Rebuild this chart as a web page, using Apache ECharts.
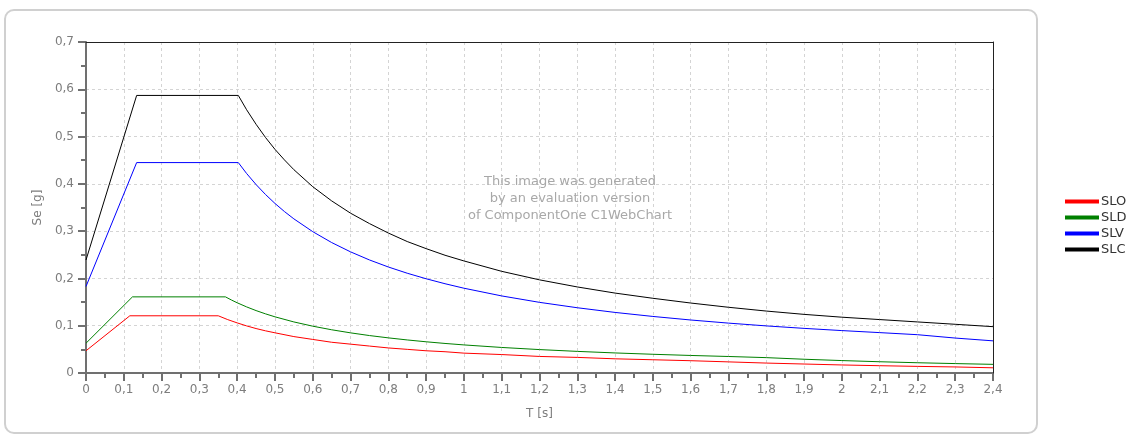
<!DOCTYPE html>
<html>
<head>
<meta charset="utf-8">
<script src="https://cdn.jsdelivr.net/npm/echarts@6/dist/echarts.min.js"></script>
<style>
html,body{margin:0;padding:0;background:#fff;}
#chart{width:1129px;height:436px;}
</style>
</head>
<body>
<div id="chart"></div>
<script>
// Periods T [s] and spectral accelerations Se [g]
const seriesNames = ['SLO', 'SLD', 'SLV', 'SLC'];
const seriesColors = ['#ff0000', '#008000', '#0000ff', '#000000'];

const sloT  = [0, 0.116, 0.35, 0.375, 0.4, 0.425, 0.45, 0.475, 0.5, 0.55, 0.6, 0.65, 0.7, 0.75, 0.8, 0.85, 0.9, 0.95, 1.0, 1.1, 1.2, 1.3, 1.4, 1.5, 1.6, 1.7, 1.8, 1.9, 2.0, 2.1, 2.2, 2.3, 2.4];
const sloSe = [0.047, 0.121, 0.121, 0.1129, 0.106, 0.0996, 0.094, 0.0892, 0.085, 0.077, 0.071, 0.065, 0.061, 0.057, 0.053, 0.050, 0.047, 0.045, 0.042, 0.039, 0.035, 0.033, 0.030, 0.028, 0.026, 0.0235, 0.021, 0.019, 0.017, 0.0154, 0.014, 0.0128, 0.011];

const sldT  = [0, 0.123, 0.369, 0.385, 0.4, 0.425, 0.45, 0.475, 0.5, 0.55, 0.6, 0.65, 0.7, 0.75, 0.8, 0.85, 0.9, 0.95, 1.0, 1.1, 1.2, 1.3, 1.4, 1.5, 1.6, 1.7, 1.8, 1.9, 2.0, 2.1, 2.2, 2.3, 2.4];
const sldSe = [0.063, 0.161, 0.161, 0.1543, 0.1485, 0.1398, 0.132, 0.1251, 0.1188, 0.108, 0.099, 0.0914, 0.0849, 0.0792, 0.0743, 0.0699, 0.066, 0.0625, 0.0594, 0.054, 0.0495, 0.0457, 0.0424, 0.0396, 0.0371, 0.0349, 0.0325, 0.0291, 0.0263, 0.0238, 0.0217, 0.0199, 0.0183];

const slvT  = [0, 0.134, 0.403, 0.425, 0.45, 0.475, 0.5, 0.525, 0.55, 0.6, 0.65, 0.7, 0.75, 0.8, 0.85, 0.9, 0.95, 1.0, 1.1, 1.2, 1.3, 1.4, 1.5, 1.6, 1.7, 1.8, 1.9, 2.0, 2.1, 2.2, 2.3, 2.4];
const slvSe = [0.183, 0.445, 0.445, 0.4219, 0.3985, 0.3775, 0.3586, 0.3415, 0.326, 0.2989, 0.2759, 0.2562, 0.2391, 0.2242, 0.211, 0.1993, 0.1888, 0.1793, 0.163, 0.1494, 0.138, 0.1281, 0.1196, 0.1121, 0.1055, 0.0996, 0.0944, 0.0897, 0.0854, 0.081, 0.0739, 0.068];

const slcT  = [0, 0.134, 0.403, 0.425, 0.45, 0.475, 0.5, 0.525, 0.55, 0.6, 0.65, 0.7, 0.75, 0.8, 0.85, 0.9, 0.95, 1.0, 1.1, 1.2, 1.3, 1.4, 1.5, 1.6, 1.7, 1.8, 1.9, 2.0, 2.1, 2.2, 2.3, 2.4];
const slcSe = [0.239, 0.587, 0.587, 0.5567, 0.526, 0.4981, 0.473, 0.4507, 0.430, 0.394, 0.364, 0.338, 0.316, 0.296, 0.278, 0.263, 0.249, 0.237, 0.215, 0.197, 0.182, 0.169, 0.158, 0.148, 0.139, 0.131, 0.124, 0.118, 0.113, 0.108, 0.103, 0.098];

const watermarkLines = ['This image was generated', 'by an evaluation version', 'of ComponentOne C1WebChart'];
const xTitle = 'T [s]';
const yTitle = 'Se [g]';

const allT = [sloT, sldT, slvT, slcT];
const allSe = [sloSe, sldSe, slvSe, slcSe];

function fmt(v) {
  const r = Math.round(v * 10) / 10;
  return String(r).replace('.', ',');
}

const FONT = 'DejaVu Sans';
const LABEL = '#7d7d7d';
const chart = echarts.init(document.getElementById('chart'), null, {renderer: 'canvas'});

const series = seriesNames.map((name, i) => ({
  name: name,
  type: 'line',
  data: allT[i].map((t, k) => [t, allSe[i][k]]),
  showSymbol: false,
  symbol: 'none',
  lineStyle: {color: seriesColors[i], width: 1},
  itemStyle: {color: seriesColors[i]},
  animation: false,
  z: 3
}));

const axisCommon = {
  axisLine: {show: true, onZero: false, lineStyle: {color: '#707070', width: 2}},
  axisTick: {show: true, inside: false, length: 8, lineStyle: {color: '#707070', width: 2}},
  minorTick: {show: true, splitNumber: 2, length: 5, lineStyle: {color: '#707070', width: 2}},
  splitLine: {show: true, lineStyle: {color: '#d4d4d4', type: [3, 3], width: 1}},
  nameTextStyle: {color: LABEL, fontFamily: FONT, fontSize: 12}
};

const borderAxis = {
  type: 'value',
  axisLine: {show: true, onZero: false, lineStyle: {color: '#222222', width: 1}},
  axisTick: {show: false},
  axisLabel: {show: false},
  splitLine: {show: false},
  z: 5
};

const option = {
  backgroundColor: '#ffffff',
  animation: false,
  grid: {left: 86, right: 136, top: 42, bottom: 63, containLabel: false},
  legend: {
    orient: 'vertical',
    left: 1065,
    top: 195,
    padding: 0,
    icon: 'rect',
    itemWidth: 34,
    itemHeight: 4,
    itemGap: 3,
    textStyle: {color: '#333333', fontFamily: FONT, fontSize: 13, lineHeight: 13, padding: [0, 0, 0, -3]},
    data: seriesNames
  },
  xAxis: [
    Object.assign({}, axisCommon, {
      type: 'value',
      min: 0,
      max: 2.4,
      interval: 0.1,
      name: xTitle,
      nameLocation: 'middle',
      nameGap: 35,
      axisLabel: {color: LABEL, fontFamily: FONT, fontSize: 12, margin: 11, formatter: fmt}
    }),
    Object.assign({}, borderAxis, {position: 'top', min: 0, max: 2.4, interval: 0.1})
  ],
  yAxis: [
    Object.assign({}, axisCommon, {
      type: 'value',
      min: 0,
      max: 0.7,
      interval: 0.1,
      name: yTitle,
      nameLocation: 'middle',
      nameGap: 42,
      nameRotate: 90,
      axisLabel: {color: LABEL, fontFamily: FONT, fontSize: 12, margin: 12, formatter: fmt}
    }),
    Object.assign({}, borderAxis, {position: 'right', min: 0, max: 0.7, interval: 0.1})
  ],
  graphic: [
    {
      type: 'rect',
      z: -10,
      silent: true,
      shape: {x: 5, y: 10, width: 1032, height: 423, r: 9},
      style: {fill: 'none', stroke: '#d0d0d0', lineWidth: 2}
    },
    {
      type: 'text',
      z: 1,
      silent: true,
      style: {
        text: watermarkLines.join('\n'),
        x: 570,
        y: 173,
        align: 'center',
        verticalAlign: 'top',
        fill: '#a8a8a8',
        font: '13px "' + FONT + '"',
        lineHeight: 17
      }
    }
  ],
  series: series
};

chart.setOption(option);
</script>
</body>
</html>
